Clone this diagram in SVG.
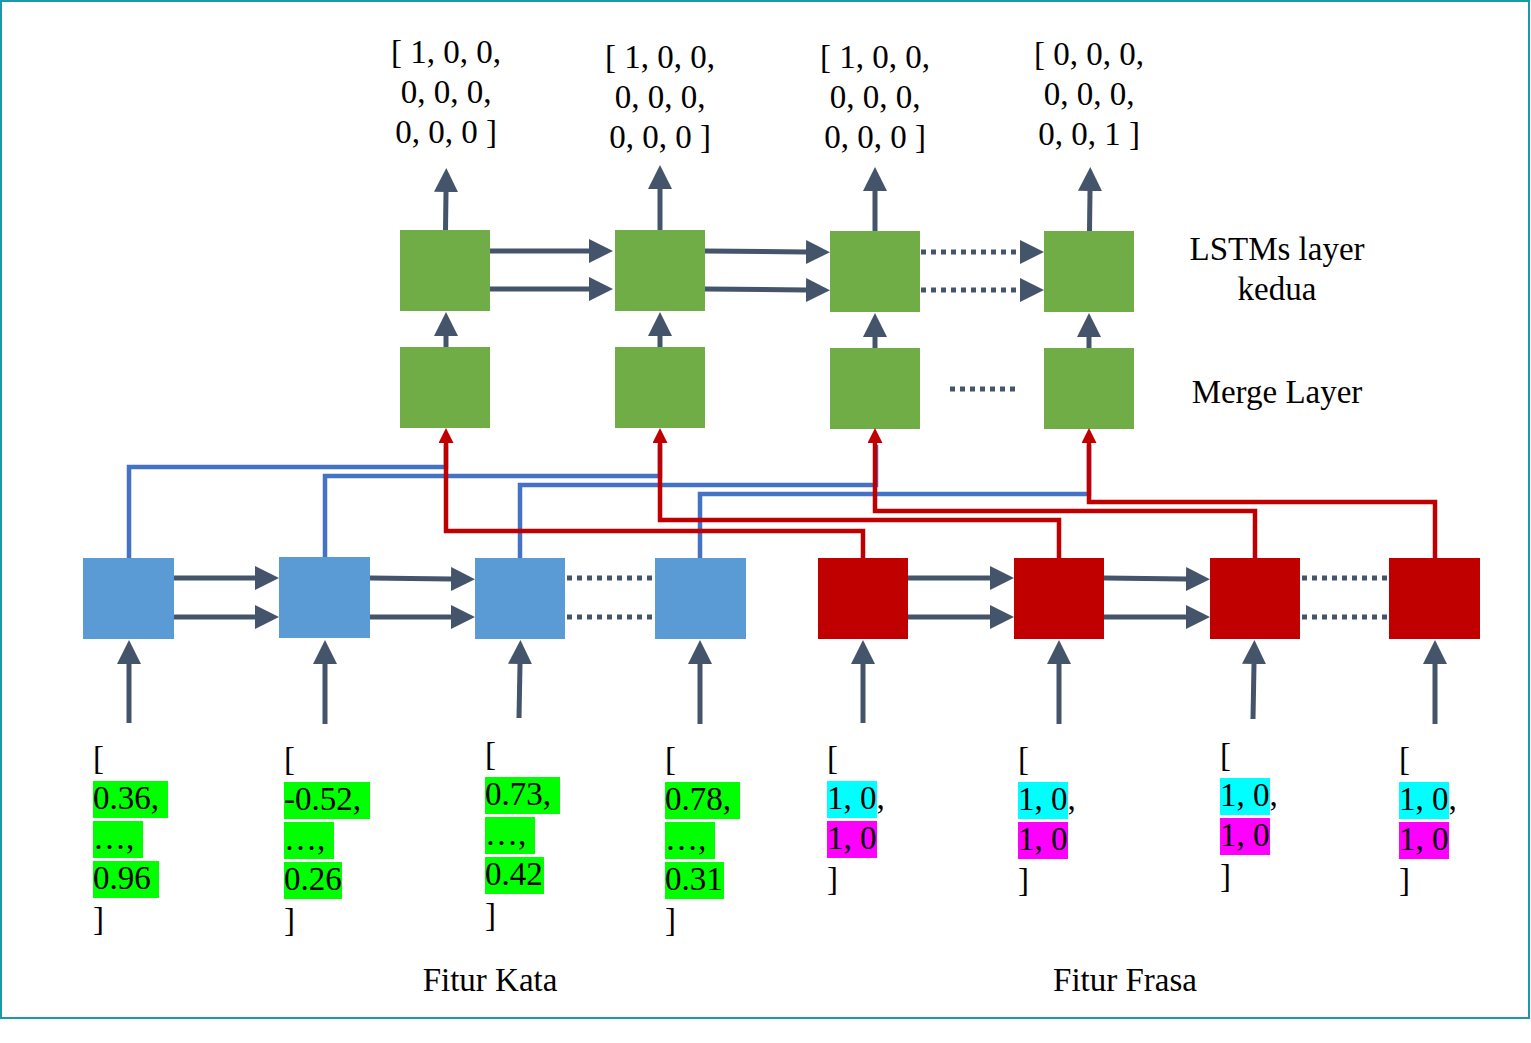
<svg xmlns="http://www.w3.org/2000/svg" width="1531" height="1043" viewBox="0 0 1531 1043">
<style>
  .t{font-family:"Liberation Serif","Times New Roman",serif;font-size:33px;fill:#000}
  .c{text-anchor:middle}
  .green{fill:#70AD47}
  .blue{fill:#5B9BD5}
  .red{fill:#C00000}
  .ar{stroke:#44546A;stroke-width:5;fill:none;marker-end:url(#ah)}
  .dot{stroke:#44546A;stroke-width:5;fill:none;stroke-dasharray:5 5}
  .dotar{stroke:#44546A;stroke-width:5;fill:none;stroke-dasharray:5 5;marker-end:url(#ah)}
  .bl{stroke:#4472C4;stroke-width:4.5;fill:none}
  .rl{stroke:#C00000;stroke-width:4.5;fill:none;marker-end:url(#rh)}
  .hg{fill:#00FF00}
  .hc{fill:#00FFFF}
  .hm{fill:#FF00FF}
</style>
<defs>
  <marker id="ah" viewBox="0 0 24 24" refX="0" refY="12" markerWidth="24" markerHeight="24" markerUnits="userSpaceOnUse" orient="auto">
    <path d="M0,0 L24,12 L0,24 Z" fill="#44546A"/>
  </marker>
  <marker id="rh" viewBox="0 0 15 15" refX="0" refY="7.5" markerWidth="15" markerHeight="15" markerUnits="userSpaceOnUse" orient="auto">
    <path d="M0,0 L15,7.5 L0,15 Z" fill="#C00000"/>
  </marker>
</defs>
<rect x="1" y="1" width="1528" height="1017" fill="#FFFFFF" stroke="#1A9AA8" stroke-width="2"/>

<!-- output labels -->
<g id="out1">
  <text class="t c" x="446" y="63">[ 1, 0, 0,</text>
  <text class="t c" x="446" y="103">0, 0, 0,</text>
  <text class="t c" x="446" y="143">0, 0, 0 ]</text>
</g>
<g id="out2">
  <text class="t c" x="660" y="68">[ 1, 0, 0,</text>
  <text class="t c" x="660" y="108">0, 0, 0,</text>
  <text class="t c" x="660" y="148">0, 0, 0 ]</text>
</g>
<g id="out3">
  <text class="t c" x="875" y="68">[ 1, 0, 0,</text>
  <text class="t c" x="875" y="108">0, 0, 0,</text>
  <text class="t c" x="875" y="148">0, 0, 0 ]</text>
</g>
<g id="out4">
  <text class="t c" x="1089" y="65">[ 0, 0, 0,</text>
  <text class="t c" x="1089" y="105">0, 0, 0,</text>
  <text class="t c" x="1089" y="145">0, 0, 1 ]</text>
</g>

<!-- LSTM layer 2 nodes -->
<g id="lstm2_1"><rect class="green" x="400" y="230" width="90" height="81"/></g>
<g id="lstm2_2"><rect class="green" x="615" y="230" width="90" height="81"/></g>
<g id="lstm2_3"><rect class="green" x="830" y="231" width="90" height="81"/></g>
<g id="lstm2_4"><rect class="green" x="1044" y="231" width="90" height="81"/></g>

<!-- Merge nodes -->
<g id="merge1"><rect class="green" x="400" y="347" width="90" height="81"/></g>
<g id="merge2"><rect class="green" x="615" y="347" width="90" height="81"/></g>
<g id="merge3"><rect class="green" x="830" y="348" width="90" height="81"/></g>
<g id="merge4"><rect class="green" x="1044" y="348" width="90" height="81"/></g>

<!-- word feature LSTM nodes -->
<g id="kata1"><rect class="blue" x="83" y="558" width="91" height="81"/></g>
<g id="kata2"><rect class="blue" x="279" y="557" width="91" height="81"/></g>
<g id="kata3"><rect class="blue" x="475" y="558" width="90" height="81"/></g>
<g id="kata4"><rect class="blue" x="655" y="558" width="91" height="81"/></g>

<!-- phrase feature LSTM nodes -->
<g id="frasa1"><rect class="red" x="818" y="558" width="90" height="81"/></g>
<g id="frasa2"><rect class="red" x="1014" y="558" width="90" height="81"/></g>
<g id="frasa3"><rect class="red" x="1210" y="558" width="90" height="81"/></g>
<g id="frasa4"><rect class="red" x="1389" y="558" width="91" height="81"/></g>

<!-- connectors -->
<g id="connectors">
  <!-- output arrows -->
  <path class="ar" d="M445.5,230 L446,192"/>
  <path class="ar" d="M660,230 L660,189"/>
  <path class="ar" d="M875,231 L875,191"/>
  <path class="ar" d="M1089.5,231 L1090,191"/>
  <!-- top horizontal -->
  <path class="ar" d="M490,251 L589,251"/>
  <path class="ar" d="M490,289 L589,289"/>
  <path class="ar" d="M705,251 L806,252"/>
  <path class="ar" d="M705,289 L806,290"/>
  <path class="dotar" d="M921,252 L1020,252"/>
  <path class="dotar" d="M921,290 L1020,290"/>
  <!-- merge to lstm2 -->
  <path class="ar" d="M446,347 L446,336"/>
  <path class="ar" d="M660,347 L660,336"/>
  <path class="ar" d="M875,348 L875,337"/>
  <path class="ar" d="M1089,348 L1089,337"/>
  <path class="dot" d="M950,389 L1015,389"/>
  <!-- blue connectors -->
  <path class="bl" d="M129,558 V467 H446 V445"/>
  <path class="bl" d="M325,557 V476 H660 V445"/>
  <path class="bl" d="M520,558 V485 H876 V445"/>
  <path class="bl" d="M700,558 V494 H1089 V445"/>
  <!-- red connectors -->
  <path class="rl" d="M863,558 V531 H446 V443"/>
  <path class="rl" d="M1059,558 V520 H660 V443"/>
  <path class="rl" d="M1255,558 V511 H875 V443"/>
  <path class="rl" d="M1435,558 V502 H1089 V443"/>
  <!-- bottom horizontal -->
  <path class="ar" d="M174,578 L255,578"/>
  <path class="ar" d="M174,617 L255,617"/>
  <path class="ar" d="M370,578 L451,579"/>
  <path class="ar" d="M370,617 L451,617"/>
  <path class="dot" d="M567,578 L655,578"/>
  <path class="dot" d="M567,617 L655,617"/>
  <path class="ar" d="M908,578 L990,578"/>
  <path class="ar" d="M908,617 L990,617"/>
  <path class="ar" d="M1104,578 L1186,579"/>
  <path class="ar" d="M1104,617 L1186,617"/>
  <path class="dot" d="M1302,578 L1389,578"/>
  <path class="dot" d="M1302,617 L1389,617"/>
  <!-- input arrows -->
  <path class="ar" d="M129,723 L129,664"/>
  <path class="ar" d="M325,724 L325,664"/>
  <path class="ar" d="M519,718 L520,664"/>
  <path class="ar" d="M700,724 L700,664"/>
  <path class="ar" d="M863,723 L863,664"/>
  <path class="ar" d="M1059,724 L1059,664"/>
  <path class="ar" d="M1253,719 L1254,664"/>
  <path class="ar" d="M1435,724 L1435,664"/>
</g>

<!-- layer labels -->
<g id="label_lstm2">
  <text class="t c" x="1277" y="260">LSTMs layer</text>
  <text class="t c" x="1277" y="300">kedua</text>
</g>
<g id="label_merge"><text class="t c" x="1277" y="403">Merge Layer</text></g>
<g id="label_kata"><text class="t c" x="490" y="991">Fitur Kata</text></g>
<g id="label_frasa"><text class="t c" x="1125" y="991">Fitur Frasa</text></g>

<!-- word feature inputs -->
<g id="in_kata1">
  <rect class="hg" x="93" y="781" width="75" height="37"/>
  <rect class="hg" x="93" y="821" width="50" height="37"/>
  <rect class="hg" x="93" y="861" width="66" height="37"/>
  <text class="t" x="93" y="809">0.36,</text>
  <text class="t" x="93" y="769">[</text>
  <text class="t" x="93" y="849">…,</text>
  <text class="t" x="93" y="889">0.96</text>
  <text class="t" x="93" y="930">]</text>
</g>
<g id="in_kata2">
  <rect class="hg" x="284" y="782" width="86" height="37"/>
  <rect class="hg" x="284" y="822" width="50" height="37"/>
  <rect class="hg" x="284" y="862" width="58" height="37"/>
  <text class="t" x="284" y="770">[</text>
  <text class="t" x="284" y="810">-0.52,</text>
  <text class="t" x="284" y="850">…,</text>
  <text class="t" x="284" y="890">0.26</text>
  <text class="t" x="284" y="931">]</text>
</g>
<g id="in_kata3">
  <rect class="hg" x="485" y="777" width="75" height="37"/>
  <rect class="hg" x="485" y="817" width="50" height="37"/>
  <rect class="hg" x="485" y="857" width="59" height="37"/>
  <text class="t" x="485" y="765">[</text>
  <text class="t" x="485" y="805">0.73,</text>
  <text class="t" x="485" y="845">…,</text>
  <text class="t" x="485" y="885">0.42</text>
  <text class="t" x="485" y="926">]</text>
</g>
<g id="in_kata4">
  <rect class="hg" x="665" y="782" width="75" height="37"/>
  <rect class="hg" x="665" y="822" width="50" height="37"/>
  <rect class="hg" x="665" y="862" width="59" height="37"/>
  <text class="t" x="665" y="770">[</text>
  <text class="t" x="665" y="810">0.78,</text>
  <text class="t" x="665" y="850">…,</text>
  <text class="t" x="665" y="890">0.31</text>
  <text class="t" x="665" y="931">]</text>
</g>

<!-- phrase feature inputs -->
<g id="in_frasa1">
  <rect class="hc" x="827" y="781" width="50" height="37"/>
  <rect class="hm" x="827" y="821" width="50" height="37"/>
  <text class="t" x="827" y="769">[</text>
  <text class="t" x="827" y="809">1, 0,</text>
  <text class="t" x="827" y="849">1, 0</text>
  <text class="t" x="827" y="890">]</text>
</g>
<g id="in_frasa2">
  <rect class="hc" x="1018" y="782" width="50" height="37"/>
  <rect class="hm" x="1018" y="822" width="50" height="37"/>
  <text class="t" x="1018" y="770">[</text>
  <text class="t" x="1018" y="810">1, 0,</text>
  <text class="t" x="1018" y="850">1, 0</text>
  <text class="t" x="1018" y="891">]</text>
</g>
<g id="in_frasa3">
  <rect class="hc" x="1220" y="778" width="50" height="37"/>
  <rect class="hm" x="1220" y="818" width="50" height="37"/>
  <text class="t" x="1220" y="766">[</text>
  <text class="t" x="1220" y="806">1, 0,</text>
  <text class="t" x="1220" y="846">1, 0</text>
  <text class="t" x="1220" y="887">]</text>
</g>
<g id="in_frasa4">
  <rect class="hc" x="1399" y="782" width="50" height="37"/>
  <rect class="hm" x="1399" y="822" width="50" height="37"/>
  <text class="t" x="1399" y="770">[</text>
  <text class="t" x="1399" y="810">1, 0,</text>
  <text class="t" x="1399" y="850">1, 0</text>
  <text class="t" x="1399" y="891">]</text>
</g>
</svg>
